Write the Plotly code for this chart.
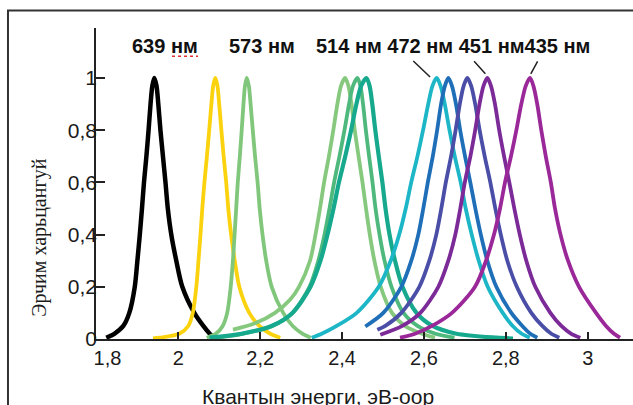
import plotly.graph_objects as go

# ---------------- data (photon energy in eV, relative intensity) ----------------
E_639 = [1.8241, 1.8437, 1.8657, 1.8803, 1.8937, 1.9001, 1.9060, 1.9113, 1.9162, 1.9221,
         1.9274, 1.9322, 1.9366, 1.9414, 1.9468, 1.9512, 1.9564, 1.9625, 1.9687, 1.9744,
         1.9829, 1.9951, 2.0098, 2.0391, 2.0611, 2.0769, 2.0879]
I_639 = [0.005, 0.02, 0.05, 0.1, 0.2, 0.3, 0.4, 0.5, 0.6, 0.7, 0.8, 0.9, 0.97, 1.0,
         0.97, 0.9, 0.8, 0.7, 0.6, 0.5, 0.4, 0.3, 0.2, 0.1, 0.05, 0.02, 0.005]

E_YEL = [1.9382, 1.9553, 2.0024, 2.0244, 2.0354, 2.0440, 2.0493, 2.0542, 2.0586, 2.0638,
         2.0699, 2.0755, 2.0808, 2.0852, 2.0904, 2.0956, 2.0999, 2.1052, 2.1108, 2.1170,
         2.1221, 2.1290, 2.1380, 2.1490, 2.1734, 2.1979, 2.2247, 2.2491]
I_YEL = [0.002, 0.005, 0.02, 0.05, 0.1, 0.2, 0.3, 0.4, 0.5, 0.6, 0.7, 0.8, 0.9, 0.97, 1.0,
         0.97, 0.9, 0.8, 0.7, 0.6, 0.5, 0.4, 0.3, 0.2, 0.1, 0.05, 0.02, 0.005]

E_573 = [2.0694, 2.0914, 2.1085, 2.1194, 2.1280, 2.1334, 2.1375, 2.1414, 2.1453, 2.1503,
         2.1549, 2.1592, 2.1629, 2.1671, 2.1723, 2.1766, 2.1819, 2.1875, 2.1937, 2.1988,
         2.2057, 2.2147, 2.2281, 2.2562, 2.2794, 2.3039, 2.3234]
I_573 = [0.005, 0.02, 0.05, 0.1, 0.2, 0.3, 0.4, 0.5, 0.6, 0.7, 0.8, 0.9, 0.97, 1.0,
         0.97, 0.9, 0.8, 0.7, 0.6, 0.5, 0.4, 0.3, 0.2, 0.1, 0.05, 0.02, 0.005]

E_514 = [2.1336, 2.1873, 2.2362, 2.2728, 2.2948, 2.3217, 2.3351, 2.3461, 2.3561, 2.3679,
         2.3786, 2.3885, 2.3974, 2.4072, 2.4155, 2.4230, 2.4310, 2.4403, 2.4499, 2.4585,
         2.4678, 2.4790, 2.4944, 2.5220, 2.5537, 2.5953, 2.6270]
I_514 = [0.036, 0.06, 0.1, 0.15, 0.2, 0.3, 0.4, 0.5, 0.6, 0.7, 0.8, 0.9, 0.97, 1.0,
         0.97, 0.9, 0.8, 0.7, 0.6, 0.5, 0.4, 0.3, 0.2, 0.1, 0.05, 0.02, 0.005]

E_MG = [2.0958, 2.1568, 2.2301, 2.2789, 2.3205, 2.3420, 2.3571, 2.3693, 2.3806, 2.3936,
        2.4059, 2.4170, 2.4267, 2.4377, 2.4448, 2.4512, 2.4581, 2.4660, 2.4744, 2.4817,
        2.4915, 2.5037, 2.5208, 2.5501, 2.5843, 2.6282, 2.6746]
I_MG = [0.005, 0.02, 0.05, 0.1, 0.2, 0.3, 0.4, 0.5, 0.6, 0.7, 0.8, 0.9, 0.97, 1.0,
        0.97, 0.9, 0.8, 0.7, 0.6, 0.5, 0.4, 0.3, 0.2, 0.1, 0.05, 0.02, 0.005]

E_TEAL = [2.0762, 2.1544, 2.2277, 2.2789, 2.3229, 2.3473, 2.3644, 2.3791, 2.3923, 2.4078,
          2.4221, 2.4350, 2.4466, 2.4597, 2.4672, 2.4738, 2.4812, 2.4896, 2.4985, 2.5061,
          2.5159, 2.5293, 2.5476, 2.5818, 2.6209, 2.6795, 2.7772, 2.8175]
I_TEAL = [0.005, 0.02, 0.05, 0.1, 0.2, 0.3, 0.4, 0.5, 0.6, 0.7, 0.8, 0.9, 0.97, 1.0,
          0.97, 0.9, 0.8, 0.7, 0.6, 0.5, 0.4, 0.3, 0.2, 0.1, 0.05, 0.02, 0.005, 0.002]

E_472 = [2.3258, 2.3503, 2.3869, 2.4358, 2.4895, 2.5188, 2.5396, 2.5555, 2.5689, 2.5841,
         2.5978, 2.6104, 2.6208, 2.6312, 2.6406, 2.6509, 2.6624, 2.6753, 2.6898, 2.7020,
         2.7167, 2.7338, 2.7557, 2.7924, 2.8168, 2.8388, 2.8583]
I_472 = [0.005, 0.02, 0.05, 0.1, 0.2, 0.3, 0.4, 0.5, 0.6, 0.7, 0.8, 0.9, 0.97, 1.0,
         0.97, 0.9, 0.8, 0.7, 0.6, 0.5, 0.4, 0.3, 0.2, 0.1, 0.05, 0.02, 0.005]

E_BLUE = [2.4568, 2.5007, 2.5447, 2.5691, 2.5862, 2.5984, 2.6094, 2.6216, 2.6322, 2.6418,
          2.6512, 2.6595, 2.6684, 2.6782, 2.6885, 2.7004, 2.7132, 2.7255, 2.7389, 2.7548,
          2.7768, 2.8134, 2.8403, 2.8598, 2.8769]
I_BLUE = [0.048, 0.1, 0.2, 0.3, 0.4, 0.5, 0.6, 0.7, 0.8, 0.9, 0.97, 1.0,
          0.97, 0.9, 0.8, 0.7, 0.6, 0.5, 0.4, 0.3, 0.2, 0.1, 0.05, 0.02, 0.005]

E_SLATE = [2.4861, 2.5056, 2.5447, 2.5887, 2.6131, 2.6302, 2.6424, 2.6534, 2.6662, 2.6773,
           2.6876, 2.6970, 2.7059, 2.7153, 2.7252, 2.7360, 2.7484, 2.7621, 2.7743, 2.7877,
           2.8036, 2.8268, 2.8622, 2.8891, 2.9111, 2.9306]
I_SLATE = [0.035, 0.05, 0.1, 0.2, 0.3, 0.4, 0.5, 0.6, 0.7, 0.8, 0.9, 0.97, 1.0,
           0.97, 0.9, 0.8, 0.7, 0.6, 0.5, 0.4, 0.3, 0.2, 0.1, 0.05, 0.02, 0.005]

E_451 = [2.4934, 2.5471, 2.5911, 2.6351, 2.6595, 2.6766, 2.6888, 2.6998, 2.7134, 2.7251,
         2.7357, 2.7455, 2.7548, 2.7637, 2.7735, 2.7838, 2.7957, 2.8085, 2.8207, 2.8341,
         2.8500, 2.8720, 2.9087, 2.9355, 2.9599, 2.9819]
I_451 = [0.016, 0.05, 0.1, 0.2, 0.3, 0.4, 0.5, 0.6, 0.7, 0.8, 0.9, 0.97, 1.0,
         0.97, 0.9, 0.8, 0.7, 0.6, 0.5, 0.4, 0.3, 0.2, 0.1, 0.05, 0.02, 0.005]

E_435 = [2.5415, 2.5782, 2.6197, 2.6685, 2.7247, 2.7516, 2.7711, 2.7858, 2.7980, 2.8125,
         2.8257, 2.8377, 2.8487, 2.8591, 2.8673, 2.8767, 2.8866, 2.8976, 2.9099, 2.9201,
         2.9336, 2.9519, 2.9788, 3.0203, 3.0447, 3.0643, 3.0789]
I_435 = [0.005, 0.02, 0.05, 0.1, 0.2, 0.3, 0.4, 0.5, 0.6, 0.7, 0.8, 0.9, 0.97, 1.0,
         0.97, 0.9, 0.8, 0.7, 0.6, 0.5, 0.4, 0.3, 0.2, 0.1, 0.05, 0.02, 0.005]

X_TICKS = [1.8, 2.0, 2.2, 2.4, 2.6, 2.8, 3.0]
X_TICK_TEXT = ["\u2007\u20071,8", "2", "2,2", "2,4", "2,6", "2,8", "3"]
Y_TICKS = [0, 0.2, 0.4, 0.6, 0.8, 1.0]
Y_TICK_TEXT = ["0", "0,2", "0,4", "0,6", "0,8", "1"]

PEAK_LABELS = ["639 нм", "573 нм", "514 нм 472 нм 451 нм435 нм"]
X_TITLE = "Квантын энерги, эВ-оор"
Y_TITLE = "Эрчим харьцангуй"

# leader lines: peak point (eV, intensity)
LEADER_E = [2.615, 2.750, 2.861]
LEADER_I = [1.004, 1.016, 1.016]

curves = [
    (E_639, I_639, "#000000", 4.5),
    (E_YEL, I_YEL, "#fbd20e", 3.8),
    (E_573, I_573, "#80c77c", 3.8),
    (E_514, I_514, "#86c97e", 3.8),
    (E_MG, I_MG, "#4fb87c", 3.8),
    (E_TEAL, I_TEAL, "#16a98e", 4.2),
    (E_472, I_472, "#1db6c6", 3.8),
    (E_BLUE, I_BLUE, "#1f6eb8", 3.8),
    (E_SLATE, I_SLATE, "#4a4ea6", 3.8),
    (E_451, I_451, "#7b2a98", 3.8),
    (E_435, I_435, "#9a2899", 3.8),
]

fig = go.Figure()
for e, i, c, w in curves:
    fig.add_trace(go.Scatter(x=e, y=i, mode="lines",
                             line=dict(color=c, width=w, shape="spline", smoothing=0.8),
                             hoverinfo="skip", showlegend=False))

FONT = "Liberation Sans, Arial, sans-serif"
axis_common = dict(showline=True, linecolor="#222", linewidth=1.5, ticks="inside",
                   tickcolor="#222", tickwidth=1.5, showgrid=False, zeroline=False)

fig.update_layout(
    width=633, height=405, autosize=False,
    margin=dict(l=96, r=0, t=28, b=66),
    paper_bgcolor="white", plot_bgcolor="white",
    xaxis=dict(range=[1.799, 3.1106], tickvals=X_TICKS, ticktext=X_TICK_TEXT,
               ticklen=7, tickfont=dict(family=FONT, size=20, color="#1a1a1a"),
               **axis_common),
    yaxis=dict(range=[0, 1.1916], tickvals=Y_TICKS, ticktext=Y_TICK_TEXT,
               ticklen=9, ticklabelstandoff=-7,
               tickfont=dict(family=FONT, size=21, color="#1a1a1a"), **axis_common),
)

# peak labels
label_x = [0.1285, 0.3091, 0.6648]
for txt, xp in zip(PEAK_LABELS, label_x):
    fig.add_annotation(xref="paper", yref="paper", x=xp, y=0.9415, text="<b>%s</b>" % txt,
                       showarrow=False, xanchor="center", yanchor="middle",
                       font=dict(family=FONT, size=20, color="#111"))

# leader lines
for e, i, ax, ay in zip(LEADER_E, LEADER_I, [-18.3, -12.6, 7.6], [-17.3, -14, -14]):
    fig.add_annotation(x=e, y=i, ax=ax, ay=ay, text="", showarrow=True, arrowhead=0,
                       arrowwidth=1.5, arrowcolor="#222", standoff=0, startstandoff=0)

# axis titles
fig.add_annotation(xref="paper", yref="paper", x=0.4134, y=-0.1855, text=X_TITLE,
                   showarrow=False, xanchor="center", yanchor="middle",
                   font=dict(family=FONT, size=21, color="#1a1a1a"))
fig.add_annotation(xref="paper", yref="paper", x=-0.1043, y=0.3257, text=Y_TITLE,
                   textangle=-90, showarrow=False, xanchor="center", yanchor="middle",
                   font=dict(family="Liberation Serif, Times New Roman, serif", size=20,
                             color="#1a1a1a"))

# outer frame and spell-check squiggle
fig.add_shape(type="rect", xref="paper", yref="paper", x0=-0.1639, y0=-0.3, x1=1.05, y1=1.0566,
              line=dict(color="#333", width=2), fillcolor="rgba(0,0,0,0)", layer="below")
fig.add_shape(type="line", xref="paper", yref="paper", x0=0.1415, y0=0.9093, x1=0.19, y1=0.9093,
              line=dict(color="#e03030", width=1.5, dash="dot"))

fig.write_html("out.html")
